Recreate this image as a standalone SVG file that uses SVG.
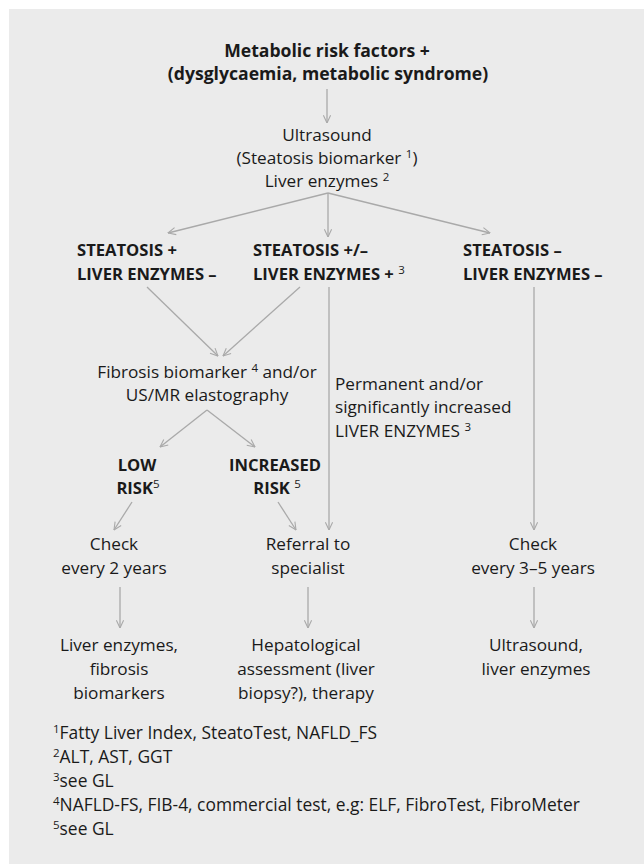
<svg xmlns="http://www.w3.org/2000/svg" width="644" height="864" viewBox="0 0 644 864">
<style>
text{font-family:"Open Sans","Noto Sans","Liberation Sans",sans-serif;fill:#1a1a1a;font-size:17.2px}
.b{font-weight:bold;font-size:16.6px}
.t{font-size:17.6px;font-weight:bold}
.m{text-anchor:middle}
.fn{font-size:17.4px}
.sup{font-size:11.5px;font-weight:normal}
.ln{stroke:#a9a9a9;stroke-width:1.3;fill:none}
.ar{marker-end:url(#ah)}
</style>
<defs>
<marker id="ah" viewBox="0 0 10 10" refX="9.5" refY="5" markerWidth="9" markerHeight="9" markerUnits="userSpaceOnUse" orient="auto">
<path d="M1,1 L9.5,5 L1,9" fill="none" stroke="#a9a9a9" stroke-width="1.2"/>
</marker>
</defs>
<rect x="9" y="9" width="635" height="855" fill="#ebebeb"/>
<g id="connectors">
<path class="ln ar" d="M327,89 V123"/>
<path class="ln ar" d="M328,193 L168,233"/>
<path class="ln ar" d="M328,193 V237"/>
<path class="ln ar" d="M328,193 L490,233"/>
<path class="ln ar" d="M147,287 L218,356"/>
<path class="ln ar" d="M300,287 L223,356"/>
<path class="ln ar" d="M329,287 V530"/>
<path class="ln ar" d="M534,287 V530"/>
<path class="ln ar" d="M207,410 L160,447"/>
<path class="ln ar" d="M207,410 L255,447"/>
<path class="ln ar" d="M132,502 L114,530"/>
<path class="ln ar" d="M278,502 L296,530"/>
<path class="ln ar" d="M120,587 V628"/>
<path class="ln ar" d="M308,587 V628"/>
<path class="ln ar" d="M534,587 V628"/>
</g>
<g id="risk-factors">
<text class="t m" x="327" y="57">Metabolic risk factors +</text>
<text class="t m" x="328" y="80">(dysglycaemia, metabolic syndrome)</text>
</g>
<g id="ultrasound">
<text class="m" x="327" y="141">Ultrasound</text>
<text class="m" x="327" y="164">(Steatosis biomarker <tspan class="sup" dy="-6">1</tspan><tspan dy="6">)</tspan></text>
<text class="m" x="327" y="187">Liver enzymes <tspan class="sup" dy="-6">2</tspan></text>
</g>
<g id="steatosis-pos">
<text class="b" x="77" y="256">STEATOSIS +</text>
<text class="b" x="77" y="280">LIVER ENZYMES –</text>
</g>
<g id="steatosis-mixed">
<text class="b" x="253" y="256">STEATOSIS +/–</text>
<text class="b" x="253" y="280">LIVER ENZYMES + <tspan class="sup" dy="-6">3</tspan></text>
</g>
<g id="steatosis-neg">
<text class="b" x="463" y="256">STEATOSIS –</text>
<text class="b" x="463" y="280">LIVER ENZYMES –</text>
</g>
<g id="fibrosis">
<text class="m" x="207" y="378">Fibrosis biomarker <tspan class="sup" dy="-6">4</tspan><tspan dy="6"> and/or</tspan></text>
<text class="m" x="207" y="401">US/MR elastography</text>
</g>
<g id="permanent">
<text x="335" y="390">Permanent and/or</text>
<text x="335" y="413">significantly increased</text>
<text x="335" y="437">LIVER ENZYMES <tspan class="sup" dy="-6">3</tspan></text>
</g>
<g id="low-risk">
<text class="b m" x="137" y="471">LOW</text>
<text class="b m" x="138" y="494">RISK<tspan class="sup" dy="-6">5</tspan></text>
</g>
<g id="increased-risk">
<text class="b m" x="275" y="471">INCREASED</text>
<text class="b m" x="277" y="494">RISK <tspan class="sup" dy="-6">5</tspan></text>
</g>
<g id="check-2">
<text class="m" x="114" y="550">Check</text>
<text class="m" x="114" y="574">every 2 years</text>
</g>
<g id="referral">
<text class="m" x="308" y="550">Referral to</text>
<text class="m" x="308" y="574">specialist</text>
</g>
<g id="check-3-5">
<text class="m" x="533" y="550">Check</text>
<text class="m" x="533" y="574">every 3–5 years</text>
</g>
<g id="out-left">
<text class="m" x="119" y="651">Liver enzymes,</text>
<text class="m" x="119" y="675">fibrosis</text>
<text class="m" x="119" y="699">biomarkers</text>
</g>
<g id="out-mid">
<text class="m" x="306" y="651">Hepatological</text>
<text class="m" x="306" y="675">assessment (liver</text>
<text class="m" x="306" y="699">biopsy?), therapy</text>
</g>
<g id="out-right">
<text class="m" x="536" y="651">Ultrasound,</text>
<text class="m" x="536" y="675">liver enzymes</text>
</g>
<g id="footnotes">
<text class="fn" x="53" y="739"><tspan class="sup" dy="-6">1</tspan><tspan dy="6">Fatty Liver Index, SteatoTest, NAFLD_FS</tspan></text>
<text class="fn" x="53" y="763"><tspan class="sup" dy="-6">2</tspan><tspan dy="6">ALT, AST, GGT</tspan></text>
<text class="fn" x="53" y="787"><tspan class="sup" dy="-6">3</tspan><tspan dy="6">see GL</tspan></text>
<text class="fn" x="53" y="811"><tspan class="sup" dy="-6">4</tspan><tspan dy="6">NAFLD-FS, FIB-4, commercial test, e.g: ELF, FibroTest, FibroMeter</tspan></text>
<text class="fn" x="53" y="835"><tspan class="sup" dy="-6">5</tspan><tspan dy="6">see GL</tspan></text>
</g>
</svg>
